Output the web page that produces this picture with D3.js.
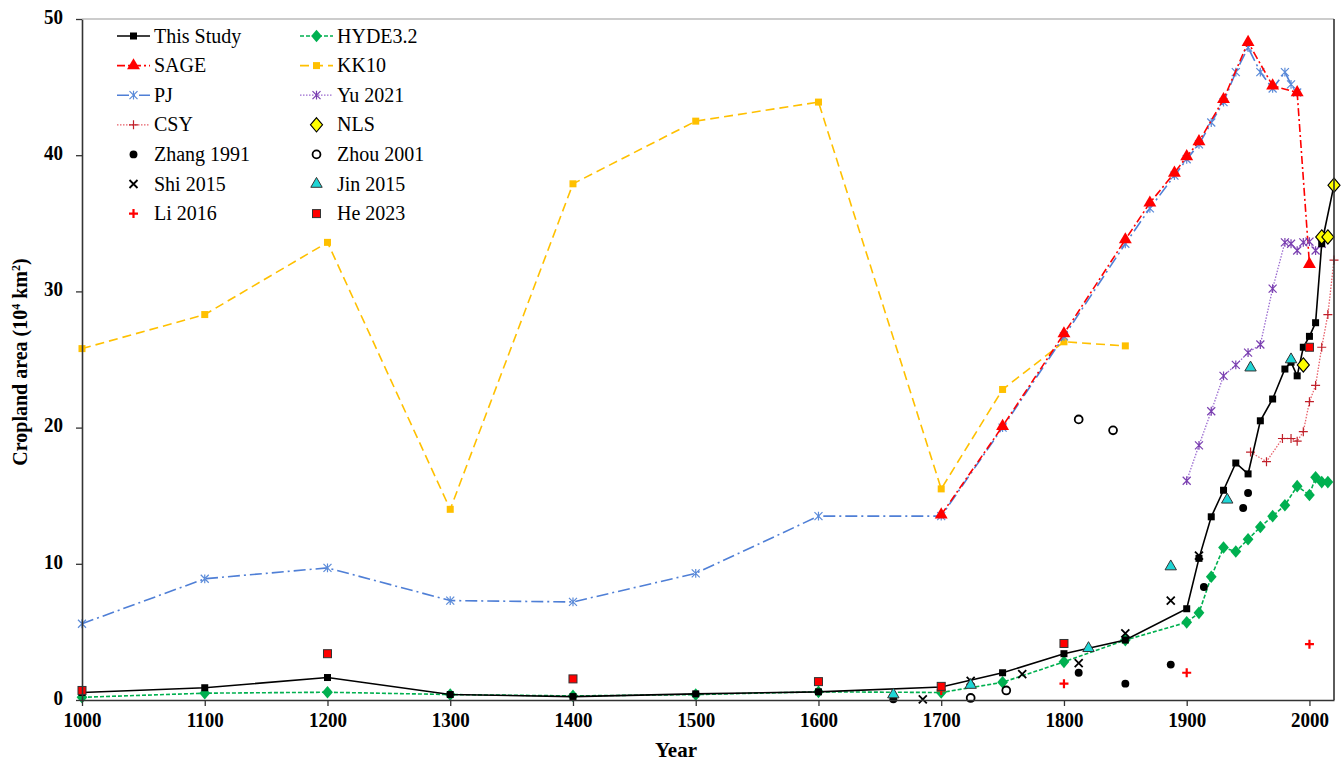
<!DOCTYPE html>
<html><head><meta charset="utf-8">
<script src="https://cdn.jsdelivr.net/npm/d3@7"></script>
<style>body{margin:0;background:#fff}svg{display:block}text{font-family:"Liberation Serif","Times New Roman",serif}</style>
</head><body><svg id="c" width="1341" height="763"></svg>
<script>
// ---- data ----
const thisStudyYears = [1000,1100,1200,1300,1400,1500,1600,1700,1750,1800,1850,1900,1910,1920,1930,1940,1950,1960,1970,1980,1985,1990,1995,2000,2005,2010,2020];
const thisStudyValues = [0.55,0.9,1.65,0.4,0.25,0.45,0.6,0.95,2.0,3.4,4.4,6.7,10.4,13.45,15.4,17.4,16.6,20.5,22.1,24.3,24.8,23.8,25.9,26.7,27.7,33.5,37.8];
const sageYears = [1700,1750,1800,1850,1870,1890,1900,1910,1930,1950,1970,1990,2000];
const sageValues = [13.6,20.1,26.9,33.8,36.5,38.7,39.9,41.0,44.1,48.3,45.1,44.6,32.0];
const pjYears = [1000,1100,1200,1300,1400,1500,1600,1700,1750,1800,1850,1870,1890,1900,1910,1920,1930,1940,1950,1960,1970,1980,1985,1990];
const pjValues = [5.6,8.9,9.7,7.3,7.2,9.3,13.5,13.5,20.0,26.7,33.5,36.1,38.5,39.7,40.8,42.4,43.9,46.1,47.9,46.1,44.9,46.1,45.2,44.6];
const csyYears = [1952,1965,1978,1985,1990,1995,2000,2005,2010,2015,2020];
const csyValues = [18.2,17.5,19.2,19.2,19.0,19.7,21.9,23.1,25.9,28.3,32.3];
const hydeYears = [1000,1100,1200,1300,1400,1500,1600,1700,1750,1800,1850,1900,1910,1920,1930,1940,1950,1960,1970,1980,1990,2000,2005,2010,2015];
const hydeValues = [0.2,0.5,0.57,0.4,0.3,0.4,0.6,0.55,1.3,2.8,4.4,5.7,6.4,9.05,11.2,10.9,11.8,12.7,13.5,14.3,15.7,15.05,16.35,16.0,16.0];
const kk10Years = [1000,1100,1200,1300,1400,1500,1600,1700,1750,1800,1850];
const kk10Values = [25.8,28.3,33.6,14.0,37.9,42.5,43.9,15.5,22.8,26.3,26.0];
const yuYears = [1900,1910,1920,1930,1940,1950,1960,1970,1980,1985,1990,1995,2000,2005,2010];
const yuValues = [16.1,18.7,21.2,23.8,24.6,25.5,26.1,30.2,33.6,33.5,33.0,33.6,33.65,33.0,33.5];
const nlsYears = [1995,2010,2015,2020];
const nlsValues = [24.6,34.0,34.0,37.8];
const zhangYears = [1661,1812,1850,1887,1914,1946,1950];
const zhangValues = [0.05,2.0,1.2,2.6,8.3,14.1,15.2];
const zhouYears = [1724,1753,1812,1840];
const zhouValues = [0.15,0.7,20.6,19.8];
const shiYears = [1685,1724,1766,1812,1850,1887,1910];
const shiValues = [0.05,1.4,1.9,2.7,4.9,7.3,10.6];
const jinYears = [1661,1724,1820,1887,1933,1952,1985];
const jinValues = [0.4,1.1,3.8,9.8,14.7,24.4,25.0];
const liYears = [1700,1800,1900,2000];
const liValues = [0.7,1.2,2.0,4.1];
const heYears = [1000,1200,1400,1600,1700,1800,2000];
const heValues = [0.7,3.4,1.55,1.35,1.0,4.15,25.9];
const xTicks = [1000,1100,1200,1300,1400,1500,1600,1700,1800,1900,2000];
const yTicks = [0,10,20,30,40,50];
const legendLabels = ["This Study","HYDE3.2","SAGE","KK10","PJ","Yu 2021","CSY","NLS","Zhang 1991","Zhou 2001","Shi 2015","Jin 2015","Li 2016","He 2023"];

// ---- drawing ----
const svg = d3.select("#c");
const L=82, R=1334, T=19, B=700;
const x = d3.scaleLinear().domain([1000,2020]).range([L,R]);
const y = d3.scaleLinear().domain([0,50]).range([B,T]);
const zip = (xs,vs)=>xs.map((d,i)=>[d,vs[i]]);

function mk(g, type, cx, cy, o){
  o = o||{};
  const s = o.size||7;
  if(type==="square"){
    g.append("rect").attr("x",cx-s/2).attr("y",cy-s/2).attr("width",s).attr("height",s)
     .attr("fill",o.fill).attr("stroke",o.stroke||"none").attr("stroke-width",o.sw||1);
  } else if(type==="triangle"||type==="diamond"||type==="circle"){
    const t = {triangle:d3.symbolTriangle,diamond:d3.symbolDiamond,circle:d3.symbolCircle}[type];
    g.append("path").attr("d",d3.symbol(t, s*s)())
     .attr("transform",`translate(${cx},${cy})`+(type==="diamond"?" scale(1.25,0.85)":""))
     .attr("fill",o.fill).attr("stroke",o.stroke||"none").attr("stroke-width",o.sw||1);
  } else if(type==="x"){
    g.append("path").attr("d",`M${cx-s/2},${cy-s/2}L${cx+s/2},${cy+s/2}M${cx-s/2},${cy+s/2}L${cx+s/2},${cy-s/2}`)
     .attr("stroke",o.stroke).attr("stroke-width",o.sw||1.8);
  } else if(type==="plus"){
    g.append("path").attr("d",`M${cx-s/2},${cy}L${cx+s/2},${cy}M${cx},${cy-s/2}L${cx},${cy+s/2}`)
     .attr("stroke",o.stroke).attr("stroke-width",o.sw||1.5);
  } else if(type==="star"){
    const h=s/2;
    g.append("path").attr("d",`M${cx-h},${cy-h}L${cx+h},${cy+h}M${cx-h},${cy+h}L${cx+h},${cy-h}M${cx},${cy-h*1.1}L${cx},${cy+h*1.1}`)
     .attr("stroke",o.stroke).attr("stroke-width",o.sw||1.2);
  }
}

const series = {
  "This Study":{data:zip(thisStudyYears,thisStudyValues),color:"#000",dash:null,w:1.6,m:"square",mo:{fill:"#000",size:7}},
  "HYDE3.2":{data:zip(hydeYears,hydeValues),color:"#00b050",dash:"4,2",w:1.6,m:"diamond",mo:{fill:"#00b050",size:8}},
  "SAGE":{data:zip(sageYears,sageValues),color:"#ff0000",dash:"8,3,2,3",w:1.6,m:"triangle",mo:{fill:"#ff0000",size:8.5}},
  "KK10":{data:zip(kk10Years,kk10Values),color:"#ffc000",dash:"9,5",w:1.6,m:"square",mo:{fill:"#ffc000",size:7}},
  "PJ":{data:zip(pjYears,pjValues),color:"#4f7fd6",dash:"12,4,2,4",w:1.6,m:"star",mo:{stroke:"#5b8bd9",size:8}},
  "Yu 2021":{data:zip(yuYears,yuValues),color:"#9b6bd0",dash:"1.5,1.5",w:1.3,m:"star",mo:{stroke:"#7a3fb0",size:8}},
  "CSY":{data:zip(csyYears,csyValues),color:"#e8606a",dash:"1.5,1.5",w:1.3,m:"plus",mo:{stroke:"#c0202a",size:9,sw:1.2}},
  "NLS":{data:zip(nlsYears,nlsValues),color:null,m:"diamond",mo:{fill:"#ffff00",stroke:"#000",size:9,sw:1}},
  "Zhang 1991":{data:zip(zhangYears,zhangValues),color:null,m:"circle",mo:{fill:"#000",size:7}},
  "Zhou 2001":{data:zip(zhouYears,zhouValues),color:null,m:"circle",mo:{fill:"none",stroke:"#000",size:7,sw:1.8}},
  "Shi 2015":{data:zip(shiYears,shiValues),color:null,m:"x",mo:{stroke:"#000",size:8,sw:1.8}},
  "Jin 2015":{data:zip(jinYears,jinValues),color:null,m:"triangle",mo:{fill:"#1fd5d5",stroke:"#333",size:7.5,sw:1}},
  "Li 2016":{data:zip(liYears,liValues),color:null,m:"plus",mo:{stroke:"#ff0000",size:9,sw:2.2}},
  "He 2023":{data:zip(heYears,heValues),color:null,m:"square",mo:{fill:"#ff0000",stroke:"#333",size:8,sw:1}}
};

const line = d3.line().x(d=>x(d[0])).y(d=>y(d[1]));
const drawOrder = ["KK10","PJ","SAGE","CSY","Yu 2021","HYDE3.2","This Study","Zhang 1991","Zhou 2001","Shi 2015","Jin 2015","Li 2016","He 2023","NLS"];
const plot = svg.append("g");
drawOrder.forEach(name=>{
  const s = series[name];
  const g = plot.append("g");
  if(s.color){
    g.append("path").attr("d",line(s.data)).attr("fill","none").attr("stroke",s.color)
     .attr("stroke-width",s.w).attr("stroke-dasharray",s.dash);
  }
  s.data.forEach(d=>mk(g,s.m,x(d[0]),y(d[1]),s.mo));
});

// axes
const axCol="#333";
const xa = svg.append("g").attr("transform",`translate(0,${B})`)
  .call(d3.axisBottom(x).tickValues(xTicks).tickFormat(d3.format("d")).tickSize(6).tickSizeOuter(0).tickPadding(5));
const ya = svg.append("g").attr("transform",`translate(${L},0)`)
  .call(d3.axisLeft(y).tickValues(yTicks).tickSize(6).tickSizeOuter(0).tickPadding(13));
[xa,ya].forEach(a=>{
  a.select(".domain").attr("stroke",axCol).attr("stroke-width",1.6);
  a.selectAll(".tick line").attr("stroke",axCol).attr("stroke-width",1.3);
  a.selectAll("text").attr("font-family","Liberation Serif").attr("font-weight","bold")
   .attr("font-size",19).attr("fill","#000");
});
xa.selectAll(".tick text").attr("transform","scale(1,1.15)").attr("y",10);
ya.selectAll(".tick text").attr("transform","scale(1,1.15)").attr("dy","0.2em");

// frame top/right
svg.append("line").attr("x1",L).attr("x2",R).attr("y1",T).attr("y2",T).attr("stroke","#999").attr("stroke-width",1.2);
svg.append("line").attr("x1",R).attr("x2",R).attr("y1",T).attr("y2",B).attr("stroke",axCol).attr("stroke-width",1.6);

// titles
svg.append("text").attr("x",676).attr("y",757).attr("text-anchor","middle")
  .attr("font-weight","bold").attr("font-size",21).text("Year");
const yt = svg.append("text").attr("transform","translate(27,362) rotate(-90)").attr("text-anchor","middle")
  .attr("font-weight","bold").attr("font-size",20);
yt.append("tspan").text("Cropland area (10");
yt.append("tspan").attr("font-size",12).attr("dy",-7).text("4");
yt.append("tspan").attr("dy",7).text(" km");
yt.append("tspan").attr("font-size",12).attr("dy",-7).text("2");
yt.append("tspan").attr("dy",7).text(")");

// legend
const lg = svg.append("g");
legendLabels.forEach((name,i)=>{
  const col=i%2, row=Math.floor(i/2);
  const x0 = col===0?117:300, yy = 36+row*29.6;
  const s = series[name];
  const g = lg.append("g");
  if(s.color){
    g.append("line").attr("x1",x0).attr("x2",x0+33).attr("y1",yy).attr("y2",yy)
     .attr("stroke",s.color).attr("stroke-width",s.w).attr("stroke-dasharray",s.dash);
  }
  mk(g,s.m,x0+16.5,yy,s.mo);
  g.append("text").attr("x",x0+37).attr("y",yy+6.5).attr("font-size",20).attr("fill","#000").text(name);
});
</script></body></html>
